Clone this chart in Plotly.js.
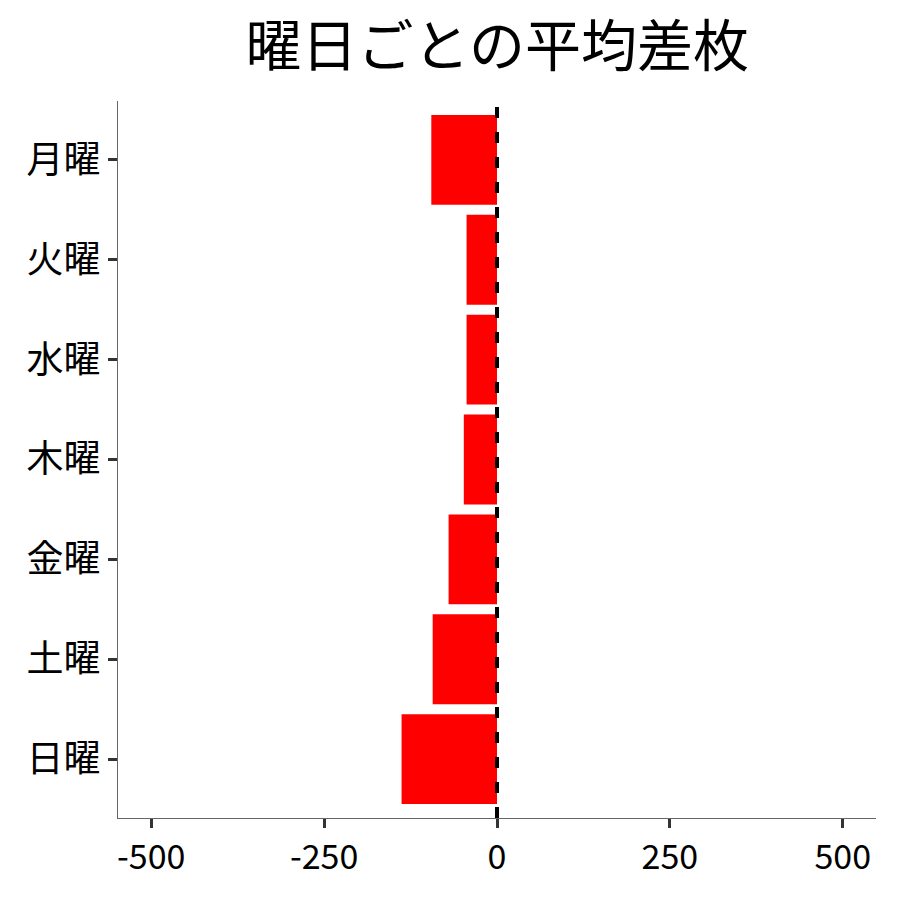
<!DOCTYPE html>
<html>
<head>
<meta charset="utf-8">
<script src="https://cdn.plot.ly/plotly-3.0.1.min.js"></script>
<style>body{margin:0;background:#fff}</style>
</head>
<body>
<div id="plot_weekday" style="width:900px;height:900px"></div>
<script>
// weekday labels and average difference
var days = ['月曜', '火曜', '水曜', '木曜', '金曜', '土曜', '日曜'];
var avgDiff = [-95, -44, -44, -48, -70, -93, -138];
var xTicks = [-500, -250, 0, 250, 500];

var trace1 = {
  x: avgDiff,
  y: days,
  type: 'bar',
  orientation: 'h',
  width: 0.9,
  marker: {color: '#ff0000'},
  hoverinfo: 'x+y'
};

var fontJP = '"Noto Sans CJK JP", "Noto Sans", sans-serif';

var layout = {
  width: 900,
  height: 900,
  margin: {l: 118, r: 24, t: 101, b: 82},
  paper_bgcolor: '#fff',
  plot_bgcolor: '#fff',
  showlegend: false,
  font: {family: fontJP, color: '#000'},
  title: {
    text: '曜日ごとの平均差枚',
    font: {size: 56, family: fontJP, color: '#000'},
    x: 0.5525, xanchor: 'center',
    y: 0.948, yanchor: 'middle'
  },
  xaxis: {
    range: [-548, 548],
    tickvals: xTicks,
    ticktext: xTicks.map(String),
    showgrid: false,
    zeroline: false,
    showline: true,
    linecolor: '#666',
    linewidth: 1,
    ticks: 'outside',
    ticklen: 9,
    tickwidth: 3,
    tickcolor: '#333',
    tickfont: {size: 34, color: '#000'}
  },
  yaxis: {
    type: 'category',
    categoryorder: 'array',
    categoryarray: days,
    range: [6.59, -0.59],
    showgrid: false,
    zeroline: false,
    showline: true,
    linecolor: '#666',
    linewidth: 1,
    ticks: 'outside',
    ticklen: 9,
    tickwidth: 3,
    tickcolor: '#333',
    tickfont: {size: 37, color: '#000'}
  },
  shapes: [{
    type: 'line',
    xref: 'x', yref: 'paper',
    x0: 0, x1: 0, y0: 0, y1: 1,
    line: {color: '#000', width: 4, dash: '11px,14px'}
  }]
};

Plotly.newPlot('plot_weekday', [trace1], layout, {staticPlot: true});
</script>
</body>
</html>
